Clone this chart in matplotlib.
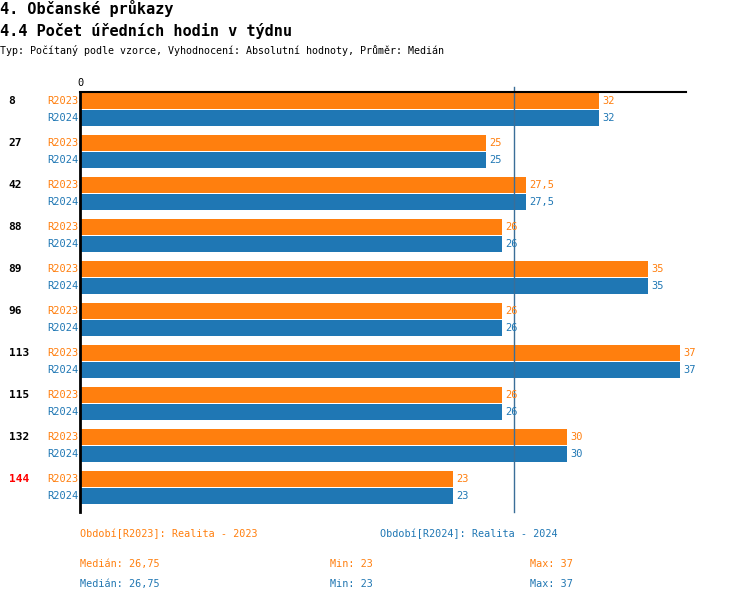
import matplotlib
matplotlib.use("Agg")
import matplotlib.pyplot as plt
import numpy as np

# data
groups = ["8", "27", "42", "88", "89", "96", "113", "115", "132", "144"]
r2023 = [32, 25, 27.5, 26, 35, 26, 37, 26, 30, 23]
r2024 = [32, 25, 27.5, 26, 35, 26, 37, 26, 30, 23]
highlight = "144"
median_val = 26.75
stats = [("Medián: 26,75", "Min: 23", "Max: 37"),
         ("Medián: 26,75", "Min: 23", "Max: 37")]
periods = ["Období[R2023]: Realita - 2023", "Období[R2024]: Realita - 2024"]

orange = "#ff7f0e"
blue = "#1f77b4"
mono = "DejaVu Sans Mono"

fig = plt.figure(figsize=(7.5, 6.02), dpi=100)
W, H = 750, 602

def fx(px):
    return px / W

def fy(py):
    return 1 - py / H

ax = fig.add_axes([fx(80), fy(512), fx(686) - fx(80), fy(92) - fy(512)])

pos = np.arange(len(groups))
ax.barh(pos - 0.2, r2023, height=0.38, color=orange)
ax.barh(pos + 0.2, r2024, height=0.38, color=blue)

for i in range(len(groups)):
    ax.text(r2023[i] + 0.22, pos[i] - 0.2, f"{r2023[i]:g}".replace(".", ","),
            color=orange, va="center", ha="left", fontsize=7.5, family=mono)
    ax.text(r2024[i] + 0.22, pos[i] + 0.2, f"{r2024[i]:g}".replace(".", ","),
            color=blue, va="center", ha="left", fontsize=7.5, family=mono)
    ax.text(-0.08, pos[i] - 0.2, "R2023", color=orange, va="center", ha="right",
            fontsize=7.5, family=mono)
    ax.text(-0.08, pos[i] + 0.2, "R2024", color=blue, va="center", ha="right",
            fontsize=7.5, family=mono)
    ax.text(-4.4, pos[i] - 0.2, groups[i], va="center", ha="left",
            fontsize=8, family=mono, fontweight="bold",
            color="red" if groups[i] == highlight else "black")

ax.set_xlim(0, 37.36)
ax.set_ylim(9.583, -0.417)
ax.axvline(median_val, ymin=0, ymax=1.012, color="#3a6e98", lw=1, clip_on=False)
for s in ["right", "bottom"]:
    ax.spines[s].set_visible(False)
ax.spines["left"].set_linewidth(2)
ax.spines["top"].set_linewidth(1.5)
ax.set_yticks([])
ax.set_xticks([])
ax.text(0, -0.52, "0", ha="center", va="bottom", fontsize=7.5, family=mono)

fig.text(0, fy(14), "4. Občanské průkazy", fontsize=11, fontweight="bold",
         family=mono, va="baseline")
fig.text(0, fy(36), "4.4 Počet úředních hodin v týdnu", fontsize=11,
         fontweight="bold", family=mono, va="baseline")
fig.text(0, fy(54), "Typ: Počítaný podle vzorce, Vyhodnocení: Absolutní hodnoty, Průměr: Medián",
         fontsize=7.2, family=mono, va="baseline")

fig.text(fx(80), fy(534), periods[0], color=orange, fontsize=7.3, family=mono, va="center")
fig.text(fx(380), fy(534), periods[1], color=blue, fontsize=7.3, family=mono, va="center")
for row, (col, y) in enumerate([(orange, 564), (blue, 584)]):
    for x, t in zip([80, 330, 530], stats[row]):
        fig.text(fx(x), fy(y), t, color=col, fontsize=7.3, family=mono, va="center")

fig.savefig("out.png", dpi=100)
